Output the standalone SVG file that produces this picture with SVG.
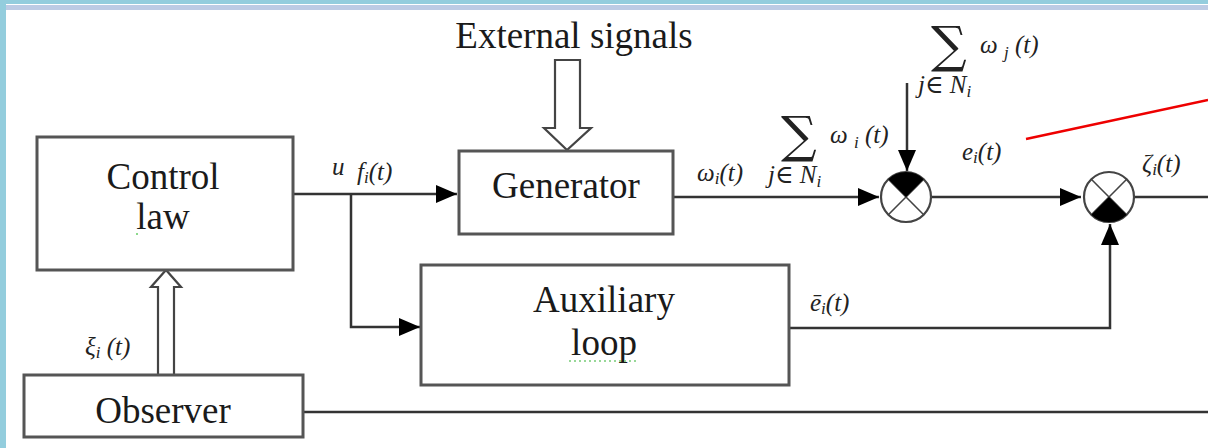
<svg xmlns="http://www.w3.org/2000/svg" width="1208" height="448" viewBox="0 0 1208 448">
<defs>
<style>
.box{fill:#fff;stroke:#555;stroke-width:3}
.ln{fill:none;stroke:#333;stroke-width:2.5}
.hollow{fill:#fff;stroke:#444;stroke-width:2.2;stroke-linejoin:miter}
.lbl{font-family:"Liberation Serif","Times New Roman",serif;font-size:37px;fill:#1a1a1a;text-anchor:middle}
.m{font-family:"Liberation Serif","DejaVu Serif",serif;font-style:italic;font-size:25px;fill:#222}
.sub{font-size:17px}
.sig{font-family:"DejaVu Serif","Liberation Serif",serif;font-size:50px;fill:#222}
.sj{fill:#fff;stroke:#444;stroke-width:2.2}
.x{stroke:#444;stroke-width:1.6}
</style>
<marker id="ah" markerUnits="userSpaceOnUse" markerWidth="22" markerHeight="18" refX="21" refY="9" orient="auto">
<path d="M0,0 L21,9 L0,18 z" fill="#000"/>
</marker>
</defs>
<rect width="1208" height="448" fill="#fff"/>
<!-- frame -->
<rect x="0" y="0" width="1208" height="4" fill="#93CDDD"/>
<rect x="6" y="5" width="1202" height="5" fill="#BCCBE4"/>
<rect x="0" y="0" width="6" height="448" fill="#93CDDD"/>

<g id="connectors">
<line class="ln" x1="293" y1="194" x2="457" y2="194" marker-end="url(#ah)"/>
<path class="ln" d="M351,194 V327 H420" marker-end="url(#ah)"/>
<line class="ln" x1="673" y1="197" x2="879" y2="197" marker-end="url(#ah)"/>
<line class="ln" x1="907" y1="83" x2="907" y2="171" marker-end="url(#ah)"/>
<line class="ln" x1="932" y1="197" x2="1081" y2="197" marker-end="url(#ah)"/>
<path class="ln" d="M789,328 H1110 V224" marker-end="url(#ah)"/>
<line class="ln" x1="1135" y1="197" x2="1208" y2="197"/>
<line class="ln" x1="303" y1="412" x2="1208" y2="412"/>
<line x1="1026" y1="139" x2="1208" y2="100" stroke="#ee0000" stroke-width="2.5"/>
<path id="ext-arrow" class="hollow" d="M555,60 H580 V128 H591 L567,150 L544,128 H555 Z"/>
<path id="obs-arrow" class="hollow" d="M158,375 V287 H151 L166,270 L181,287 H174 V375 Z"/>
</g>

<g id="control-law">
<rect class="box" x="37" y="137" width="256" height="133"/>
<text class="lbl" x="163" y="189">Control</text>
<text class="lbl" x="163" y="229">law</text>
<circle cx="137" cy="234" r="1" fill="#6c6"/>
</g>

<g id="generator">
<rect class="box" x="459" y="151" width="214" height="83"/>
<text class="lbl" x="566" y="198">Generator</text>
</g>

<g id="auxiliary-loop">
<rect class="box" x="421" y="265" width="368" height="120"/>
<text class="lbl" x="604" y="312">Auxiliary</text>
<text class="lbl" x="604" y="355">loop</text>
<line x1="569" y1="361" x2="637" y2="361" stroke="#7c7" stroke-width="1.5" stroke-dasharray="2,3"/>
</g>

<g id="observer">
<rect class="box" x="24" y="375" width="279" height="62"/>
<text class="lbl" x="163" y="423">Observer</text>
</g>

<g id="external-signals">
<text class="lbl" x="574" y="48">External signals</text>
</g>

<g id="sum1">
<circle class="sj" cx="906" cy="197" r="25"/>
<line class="x" x1="888.3" y1="179.3" x2="923.7" y2="214.7"/>
<line class="x" x1="923.7" y1="179.3" x2="888.3" y2="214.7"/>
<path d="M906,197 L888.3,179.3 A25,25 0 0 1 923.7,179.3 Z" fill="#000"/>
</g>

<g id="sum2">
<circle class="sj" cx="1109" cy="197" r="25"/>
<line class="x" x1="1091.3" y1="179.3" x2="1126.7" y2="214.7"/>
<line class="x" x1="1126.7" y1="179.3" x2="1091.3" y2="214.7"/>
<path d="M1109,197 L1126.7,214.7 A25,25 0 0 1 1091.3,214.7 Z" fill="#000"/>
</g>

<g id="labels">
<text class="m" x="332" y="175">u</text>
<text class="m" x="357" y="180">f<tspan class="sub" dy="3">i</tspan><tspan dy="-3">(t)</tspan></text>
<text class="m" x="697" y="181">ω<tspan class="sub" dy="3">i</tspan><tspan dy="-3">(t)</tspan></text>
<text class="m" x="85" y="355">ξ<tspan class="sub" dy="3">i</tspan><tspan dy="-3"> (t)</tspan></text>
<text class="m" x="810" y="311">ē<tspan class="sub" dy="3">i</tspan><tspan dy="-3">(t)</tspan></text>
<text class="m" x="1142" y="172">ζ<tspan class="sub" dy="3">i</tspan><tspan dy="-3">(t)</tspan></text>
<text class="m" x="962" y="160">e<tspan class="sub" dy="3">i</tspan><tspan dy="-3">(t)</tspan></text>
<text class="sig" x="931" y="62">∑</text>
<text class="m" x="980" y="53">ω <tspan class="sub" dy="5">j</tspan><tspan dy="-5"> (t)</tspan></text>
<text class="m" x="918" y="93">j∈ N<tspan class="sub" dy="4">i</tspan></text>
<text class="sig" x="781" y="152">∑</text>
<text class="m" x="830" y="143">ω <tspan class="sub" dy="5">i</tspan><tspan dy="-5"> (t)</tspan></text>
<text class="m" x="768" y="183">j∈ N<tspan class="sub" dy="4">i</tspan></text>
</g>
</svg>
